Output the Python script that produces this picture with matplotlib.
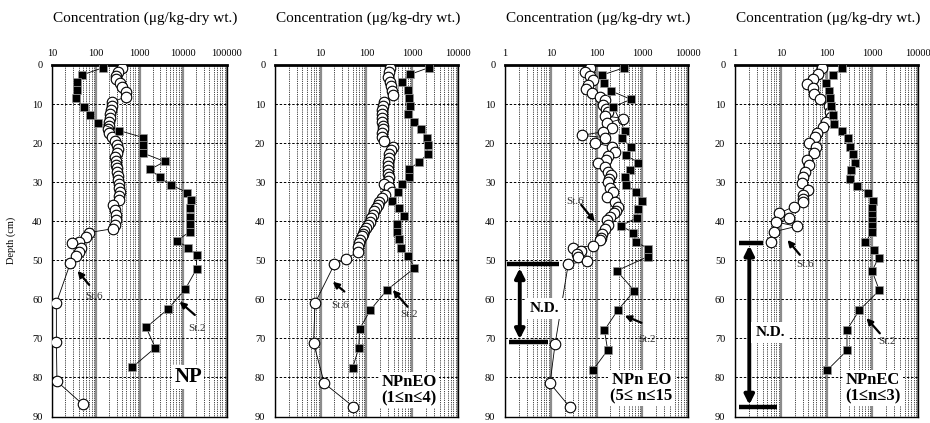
import matplotlib
matplotlib.use('Agg')
import matplotlib.pyplot as plt
from matplotlib.ticker import LogLocator, FixedLocator, NullFormatter

plt.rcParams['font.family'] = ['Liberation Serif', 'DejaVu Serif']

# ---------------- data ----------------
# Panel 1: NP
np_st2_depth = [0.7, 2.6, 4.3, 6.4, 8.5, 10.7, 12.8, 14.8, 16.8, 18.6, 20.5, 22.6, 24.7, 26.7, 28.8, 30.7,
                32.7, 34.6, 36.7, 38.8, 40.8, 42.7, 45.0, 46.8, 48.6, 52.2, 57.4, 62.5, 67.2, 72.4, 77.4]
np_st2_conc = [145, 47, 36, 36, 35, 52, 74, 109, 347, 1230, 1230, 1230, 3800, 1780, 2900, 5300,
               12600, 15400, 14200, 14200, 14200, 14200, 7200, 13200, 20400, 20400, 11200, 4500, 1420, 2300, 680]
np_st6_depth = [0.7, 1.7, 2.7, 3.7, 4.7, 5.7, 6.8, 8.1,
                9.5, 10.5, 11.5, 12.5, 13.5, 14.5, 15.5, 16.5, 17.5, 18.5, 19.5, 20.5, 21.5, 22.5, 23.5,
                24.5, 25.5, 26.5, 27.5, 28.5, 29.5, 30.5, 31.5, 32.5, 33.5, 34.5,
                35.9, 37.2, 38.5, 39.7, 41.0, 41.9,
                42.9, 44.0, 45.4, 45.6, 46.9, 48.0, 49.0, 50.7,
                60.9, 70.9, 81.0, 86.9]
np_st6_conc = [390, 320, 290, 290, 350, 390, 490, 490,
               240, 230, 220, 215, 210, 205, 195, 190, 200, 240, 275, 300, 325, 300, 275,
               285, 290, 300, 305, 315, 325, 335, 345, 350, 345, 330,
               250, 275, 290, 285, 275, 250,
               70, 59, 40, 28, 45, 41, 35, 26,
               12.4, 12.4, 12.8, 50]

# Panel 2: NPnEO (1<=n<=4)
eo14_st2_depth = [0.7, 2.4, 4.4, 6.4, 8.4, 10.5, 12.6, 14.5, 16.4, 18.6, 20.6, 22.8, 24.9, 26.7, 28.6, 30.5,
                  32.4, 34.8, 36.7, 38.7, 40.8, 42.7, 44.6, 46.8, 48.9, 52.0, 57.6, 62.7, 67.6, 72.5, 77.6]
eo14_st2_conc = [2300, 910, 590, 830, 870, 910, 830, 1130, 1580, 2140, 2200, 2200, 1400, 850, 850, 590,
                 490, 365, 530, 660, 470, 470, 510, 575, 830, 1130, 283, 123, 71, 68, 50]
eo14_st6_depth = [0.7, 1.7, 3.0, 4.3, 5.5, 6.7, 7.8,
                  9.5, 10.5, 11.5, 12.5, 13.5, 14.5, 15.5, 16.5, 17.5, 18.5, 19.5,
                  20.9, 21.8, 22.8, 23.8, 24.8, 25.8, 26.8, 27.8, 28.8, 29.8,
                  30.5, 31.2, 32.4, 33.3, 34.1, 35.0, 35.8, 36.6, 37.5, 38.3, 39.2, 40.1, 41.0, 41.8,
                  42.5, 43.3, 43.9, 44.8, 45.6, 46.7, 47.8,
                  49.7, 51.0, 61.0, 71.2, 81.5, 87.5]
eo14_st6_conc = [335, 320, 295, 335, 350, 360, 380,
                 247, 228, 225, 222, 220, 225, 228, 230, 225, 222, 240,
                 380, 350, 320, 310, 300, 295, 300, 305, 310, 300,
                 240, 320, 365, 260, 218, 193, 177, 165, 150, 137, 126, 118, 110, 100,
                 91, 85, 80, 74, 70, 67, 65,
                 36, 20, 7.5, 7.0, 12, 52]

# Panel 3: NPnEO (5<=n<=15)
eo515_st2_depth = [0.7, 2.6, 4.5, 6.6, 8.8, 10.7, 16.9, 18.8, 20.9, 23.1, 25.0, 26.8, 28.7, 30.6, 32.6,
                   34.7, 36.8, 39.1, 41.2, 42.9, 45.3, 47.0, 49.1, 52.7, 57.8, 62.8, 67.9, 73.0, 78.2]
eo515_st2_conc = [398, 129, 145, 203, 560, 231, 415, 355, 550, 430, 810, 535, 415, 440, 725,
                  1000, 790, 755, 340, 630, 710, 1350, 1290, 274, 665, 288, 148, 174, 82]
eo515_st6_depth = [0.7, 1.7, 2.8, 3.8, 5.1, 6.2, 7.2, 8.1, 8.9, 10.3, 11.2, 12.0, 13.0, 13.7, 14.9,
                   16.2, 17.1, 18.0, 18.6, 19.9, 21.0, 22.3, 23.3, 24.2, 25.1, 26.0, 27.3, 28.2, 29.1,
                   29.9, 31.4, 32.5, 33.8, 35.1, 36.4, 37.3, 38.0, 39.0, 39.7, 41.0, 42.1, 43.2, 44.2,
                   44.9, 46.3, 46.8, 47.5, 48.3, 49.1, 50.2, 51.0, 71.4, 81.5, 87.6]
eo515_st6_conc = [72, 56, 70, 85, 66, 60, 80, 118, 153, 140, 160, 180, 150, 380, 166,
                  214, 140, 47, 150, 92, 214, 252, 180, 160, 109, 150, 180, 210, 190,
                  180, 195, 233, 166, 252, 296, 260, 240, 200, 166, 180, 150, 129, 125,
                  118, 82, 31, 45, 38, 40, 61, 24, 12.4, 9.6, 26]

# Panel 4: NPnEC (1<=n<=3)
ec_st2_depth = [0.85, 2.6, 4.7, 6.6, 8.5, 10.5, 12.8, 15.1, 16.9, 18.8, 20.9, 22.8, 25.2, 26.9, 29.1, 31.0,
                32.9, 34.9, 36.6, 38.3, 40.0, 41.3, 42.8, 45.3, 47.4, 49.3, 52.7, 57.7, 62.8, 67.8, 73.1, 78.2]
ec_st2_conc = [215, 137, 98, 110, 120, 124, 137, 147, 215, 288, 317, 370, 425, 347, 317, 460,
               800, 1030, 980, 980, 980, 980, 980, 700, 1070, 1370, 980, 1410, 515, 278, 278, 102]
ec_st6_depth = [0.85, 2.3, 3.7, 4.9, 6.0, 7.3, 8.8, 10.5, 12.0, 13.3, 14.5, 15.8, 17.5, 18.5, 19.9, 21.0,
                22.5, 24.2, 25.6, 27.3, 28.6, 30.2, 32.0, 33.3, 34.3, 35.0, 36.3, 38.0, 39.3, 40.2,
                41.3, 42.7, 45.3]
ec_st6_conc = [79, 66, 50, 38, 50, 52, 72, 110, 117, 125, 98, 85, 61, 55, 42, 59,
               52, 37, 42, 34, 31, 29, 40, 30, 30, 31, 19, 8.9, 15, 7.9,
               22, 7.1, 6.0]

title_text = "Concentration (\u03bcg/kg-dry wt.)"
panel_labels = ["NP", "NPnEO\n(1\u2264n\u22644)", "NPn EO\n(5\u2264 n\u226415", "NPnEC\n(1\u2264n\u22643)"]
x_ticks_p1 = [10, 100, 1000, 10000, 100000]
x_ticks_other = [1, 10, 100, 1000, 10000]
y_ticks = [0, 10, 20, 30, 40, 50, 60, 70, 80, 90]

# ---------------- layout ----------------
W, H = 930, 423
fig = plt.figure(figsize=(W / 100, H / 100), dpi=100)
top_px, bot_px = 65, 416.5
panels_px = [(52.3, 226.7), (275, 457.7), (505, 688.3), (735, 918.3)]
xlims = [(10, 1e5), (1, 1e4), (1, 1e4), (1, 1e4)]
ticks = [x_ticks_p1, x_ticks_other, x_ticks_other, x_ticks_other]

series = [
    (np_st2_depth, np_st2_conc, np_st6_depth, np_st6_conc),
    (eo14_st2_depth, eo14_st2_conc, eo14_st6_depth, eo14_st6_conc),
    (eo515_st2_depth, eo515_st2_conc, eo515_st6_depth, eo515_st6_conc),
    (ec_st2_depth, ec_st2_conc, ec_st6_depth, ec_st6_conc),
]

axes = []
for i, ((l, r), xl, tk, (d2, c2, d6, c6)) in enumerate(zip(panels_px, xlims, ticks, series)):
    ax = fig.add_axes([l / W, 1 - bot_px / H, (r - l) / W, (bot_px - top_px) / H])
    axes.append(ax)
    ax.set_xscale('log')
    ax.set_xlim(*xl)
    ax.set_ylim(90, 0)
    ax.xaxis.tick_top()
    ax.xaxis.set_major_locator(FixedLocator(tk))
    ax.set_xticklabels([str(t) for t in tk])
    ax.xaxis.set_minor_locator(LogLocator(base=10, subs=range(2, 10), numticks=20))
    ax.xaxis.set_minor_formatter(NullFormatter())
    ax.set_yticks(y_ticks)
    ax.set_yticklabels([str(t) for t in y_ticks])
    ax.tick_params(which='both', length=0)
    ax.tick_params(axis='x', labelsize=7.5, pad=5)
    ax.tick_params(axis='y', labelsize=7.5, pad=7)
    ax.grid(which='minor', axis='x', ls=(0, (1, 1.2)), lw=0.6, color='black')
    ax.grid(which='major', axis='x', ls='-', lw=1.6, color='#8c8c8c')
    ax.grid(which='major', axis='y', ls=(0, (2.5, 1.8)), lw=0.7, color='black')
    ax.set_axisbelow(True)
    for s in ax.spines.values():
        s.set_linewidth(1.0)
    ax.spines['top'].set_linewidth(2.0)

    # St.6 (open circles) and St.2 (filled squares)
    ax.plot(c6, d6, '-', color='black', lw=0.6, marker='o', ms=7.6, mfc='white', mec='black',
            mew=0.8, zorder=3)
    ax.plot(c2, d2, '-', color='black', lw=0.6, marker='s', ms=6.3, mfc='black', mec='#9a9a9a',
            mew=0.5, zorder=4)

    fig.text(l / W + 0.001, 1 - 18 / H, title_text, ha='left', va='center', fontsize=11)

axes[0].set_ylabel("Depth (cm)", fontsize=7.5)
axes[0].yaxis.set_label_coords(-0.21, 0.5)

def st_label(ax, text, tx, ty, ax_from, ay_from, ax_to, ay_to):
    ax.text(tx, ty, text, fontsize=8, ha='center', va='center', color='#333333', zorder=6)
    ax.annotate('', xy=(ax_to, ay_to), xytext=(ax_from, ay_from),
                arrowprops=dict(arrowstyle='-|>', lw=1.6, color='black', mutation_scale=9,
                                shrinkA=0, shrinkB=0), zorder=6)

st_label(axes[0], "St.6", 91, 59.4, 70, 56.3, 38, 52.7)
st_label(axes[0], "St.2", 20400, 67.4, 18600, 64.0, 8300, 60.6)
st_label(axes[1], "St.6", 26, 61.5, 33, 58.0, 18.4, 55.5)
st_label(axes[1], "St.2", 870, 63.8, 800, 61.9, 380, 57.6)
st_label(axes[2], "St.6", 33, 35.0, 46, 35.8, 91, 40.1)
st_label(axes[2], "St.2", 1230, 70.4, 950, 66.0, 410, 64.2)
st_label(axes[3], "St.6", 33, 51.2, 26, 48.6, 14, 44.8)
st_label(axes[3], "St.2", 2040, 70.8, 1450, 68.7, 740, 64.8)

# panel labels
box = dict(facecolor='white', edgecolor='none', pad=1.5)
axes[0].text(13200, 79.8, panel_labels[0], fontsize=15, fontweight='bold', ha='center', va='center',
             bbox=box, zorder=5)
axes[1].text(870, 83.2, panel_labels[1], fontsize=12, fontweight='bold', ha='center', va='center',
             linespacing=1.0, bbox=box, zorder=5)
axes[2].text(950, 82.8, panel_labels[2], fontsize=12, fontweight='bold', ha='center', va='center',
             linespacing=1.0, bbox=box, zorder=5)
axes[3].text(1020, 82.8, panel_labels[3], fontsize=12, fontweight='bold', ha='center', va='center',
             linespacing=1.0, bbox=box, zorder=5)

# N.D. markers
def nd(ax, bar1, bar2, xarr, ytop, ybot, tx, ty):
    (x1a, x1b, y1) = bar1
    (x2a, x2b, y2) = bar2
    ax.plot([x1a, x1b], [y1, y1], color='black', lw=3.2, solid_capstyle='butt', zorder=5)
    ax.plot([x2a, x2b], [y2, y2], color='black', lw=3.2, solid_capstyle='butt', zorder=5)
    ax.annotate('', xy=(xarr, ytop), xytext=(xarr, ybot),
                arrowprops=dict(arrowstyle='<|-|>', lw=2.8, color='black', mutation_scale=14,
                                shrinkA=0, shrinkB=0), zorder=5)
    ax.text(tx, ty, "N.D.", fontsize=11, fontweight='bold', ha='center', va='center',
            bbox=dict(facecolor='white', edgecolor='none', pad=3), zorder=6)

nd(axes[2], (1.08, 15, 50.9), (1.2, 8.6, 71.0), 2.1, 52.0, 70.2, 7.4, 62.3)
nd(axes[3], (1.22, 4.1, 45.6), (1.22, 8.3, 87.6), 2.05, 46.2, 87.0, 5.9, 68.4)

fig.savefig('out.png', dpi=100)
